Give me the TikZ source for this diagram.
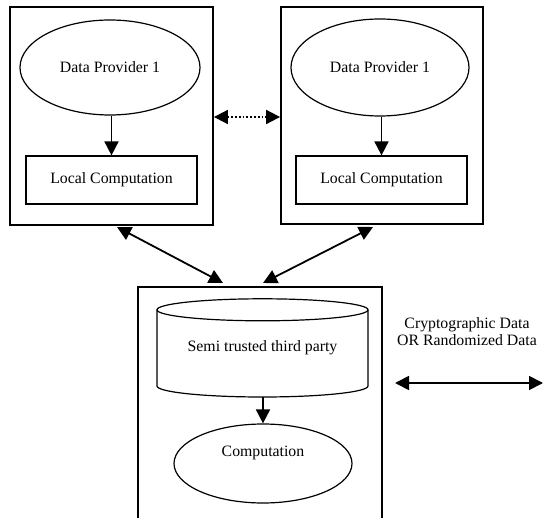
\documentclass[tikz,border=0pt]{standalone}
\usepackage{fontspec}
\setmainfont{Liberation Serif}
\usetikzlibrary{shapes.geometric,arrows.meta}
\tikzset{
  arr/.style={line width=1.8pt,-{Triangle[length=14pt,width=14pt]}},
  darr/.style={line width=1.8pt,{Triangle[length=14pt,width=14pt]}-{Triangle[length=14pt,width=14pt]}},
  box/.style={draw,line width=1.8pt,inner sep=0pt},
  thin box/.style={draw,line width=1.2pt,inner sep=0pt}
}
\begin{document}
\begin{tikzpicture}[x=1pt,y=-1pt,font=\fontsize{15.8}{17}\selectfont]
      \useasboundingbox (0,0) rectangle (543,518);
      % provider boxes
      \node[box,minimum width=203,minimum height=218] (left) at (111.5,116) {};
      \node[box,minimum width=202,minimum height=217] (right) at (382,115.5) {};
      \node[thin box,ellipse,minimum width=180,minimum height=95] (dp1) at (110,67.5) {Data Provider 1};
      \node[thin box,minimum width=171,minimum height=48] (lc1) at (111.5,180) {Local Computation};
      \node[thin box,ellipse,minimum width=178,minimum height=97] (dp2) at (380,67.5) {Data Provider 1};
      \node[thin box,minimum width=171,minimum height=48] (lc2) at (381.5,180) {Local Computation};
      \draw[arr] (dp1.south -| lc1.north) -- (lc1.north);
      \draw[arr] (dp2.south -| lc2.north) -- (lc2.north);
      \draw[darr,dotted] (left.east |- 0,117) -- (right.west |- 0,117);
      % third party
      \draw[line width=1.8pt] (138,530) |- (382,287) -- (382,530);
      \coordinate (tpl) at (223,283);
      \coordinate (tpr) at (263,283);
      \node[minimum width=211,minimum height=87,inner sep=0pt] (stp) at (262.5,353.5) {};
      \draw[line width=1.2pt] (stp.north) ellipse[x radius=105.5,y radius=11];
      \draw[line width=1.2pt] (157,310) -- (157,386) arc[start angle=180,end angle=0,x radius=105.5,y radius=11] -- (368,310);
      \node at (262.5,348) {Semi trusted third party};
      \node[thin box,ellipse,minimum width=178,minimum height=79] (comp) at (263,463.5) {};
      \node at (263,453) {Computation};
      \draw[arr] (stp.south -| comp.north) -- (comp.north);
      \draw[darr] (117,227) -- (tpl);
      \draw[darr] (373,227) -- (tpr);
      % channel
      \node[align=center] (chan) at (467,331.5) {Cryptographic Data\\OR Randomized Data};
      \draw[darr] (395,383) -- (543,383);
\end{tikzpicture}
\end{document}
